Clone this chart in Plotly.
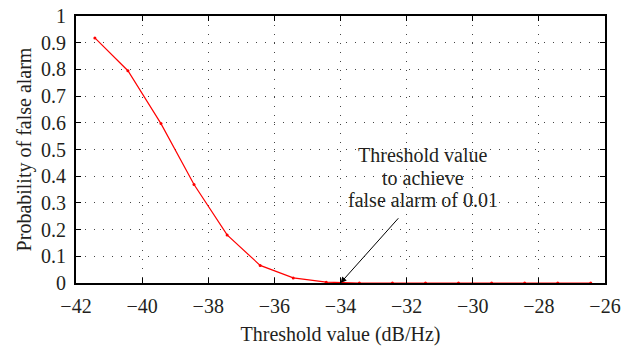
import plotly.graph_objects as go

threshold = [-41.43, -40.43, -39.43, -38.43, -37.43, -36.43, -35.43, -34.43,
             -33.43, -32.43, -31.43, -30.43, -29.43, -28.43, -27.43, -26.43]
pfa = [0.918, 0.795, 0.597, 0.369, 0.180, 0.066, 0.019, 0.003,
       0.0, 0.0, 0.0, 0.0, 0.0, 0.0, 0.0, 0.0]
x_ticks = [-42, -40, -38, -36, -34, -32, -30, -28, -26]
y_ticks = [0, 0.1, 0.2, 0.3, 0.4, 0.5, 0.6, 0.7, 0.8, 0.9, 1]
y_tick_text = ["0", "0.1", "0.2", "0.3", "0.4", "0.5", "0.6", "0.7", "0.8", "0.9", "1"]
x_tick_text = ["\u221242", "\u221240", "\u221238", "\u221236", "\u221234", "\u221232", "\u221230", "\u221228", "\u221226"]
note_lines = ["Threshold value", "to achieve", "false alarm of 0.01"]
note_y = [0.479, 0.395, 0.311]

FONT = "Liberation Serif"
TXT = "#231f20"

fig = go.Figure()
fig.add_trace(go.Scatter(
    x=threshold, y=pfa, mode="lines+markers",
    line=dict(color="#ff0000", width=1.2),
    marker=dict(color="#ff0000", size=3),
    showlegend=False, cliponaxis=False,
))

axis_common = dict(
    showline=True, linecolor="black", linewidth=2, mirror="ticks",
    ticks="inside", ticklen=5, tickcolor="black", tickwidth=1,
    showgrid=True, gridcolor="#444444", gridwidth=1, griddash="1px,8px",
    zeroline=False, automargin=False,
    tickfont=dict(family=FONT, size=20, color=TXT),
)

fig.update_xaxes(range=[-42, -26], tickvals=x_ticks, ticktext=x_tick_text,
                 ticklabelstandoff=4,
                 title=dict(text="Threshold value (dB/Hz)", font=dict(family=FONT, size=20, color=TXT), standoff=11),
                 **axis_common)
fig.update_yaxes(range=[0, 1], tickvals=y_ticks, ticktext=y_tick_text,
                 ticklabelstandoff=4,
                 title=dict(text="Probability of false alarm", font=dict(family=FONT, size=20, color=TXT), standoff=4),
                 **axis_common)

fig.add_annotation(x=-34, y=0.0, ax=-32.21, ay=0.248, axref="x", ayref="y",
                   xref="x", yref="y", text="", showarrow=True,
                   arrowhead=2, arrowsize=1.2, arrowwidth=1, arrowcolor="black")
for line, yy in zip(note_lines, note_y):
    fig.add_annotation(x=-31.5, y=yy, xref="x", yref="y", text=line,
                       showarrow=False, align="center", bgcolor="rgba(0,0,0,0)",
                       font=dict(family=FONT, size=20, color=TXT))

fig.update_layout(
    width=638, height=347,
    margin=dict(l=76, r=33, t=16, b=64),
    paper_bgcolor="white", plot_bgcolor="white",
)

fig.write_html("out.html")
